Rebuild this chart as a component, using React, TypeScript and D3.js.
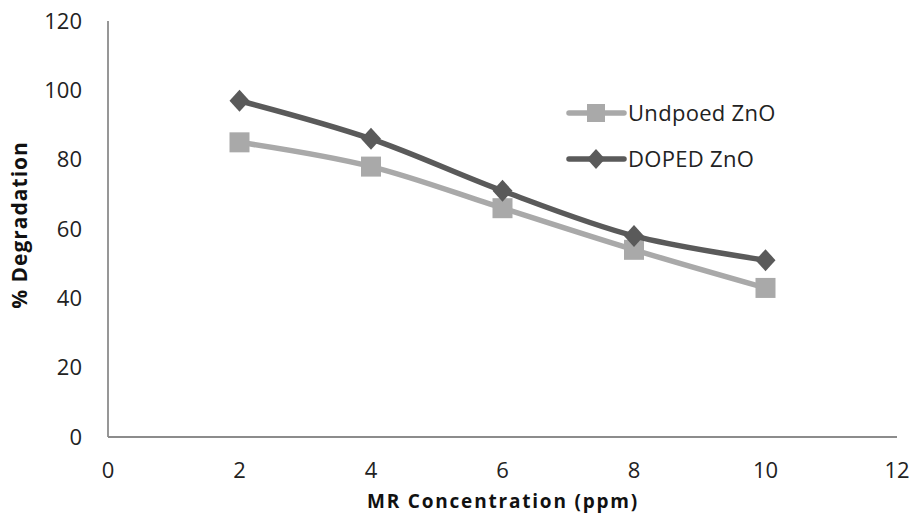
import React, { useEffect, useRef } from 'react'
import * as d3 from 'd3'

const concentrations = [2, 4, 6, 8, 10]
const undoped = [85, 78, 66, 54, 43]
const doped = [97, 86, 71, 58, 51]
const xTicks = [0, 2, 4, 6, 8, 10, 12]
const yTicks = [0, 20, 40, 60, 80, 100, 120]

const W = 912
const H = 516
const FONT = '"Open Sans", sans-serif'

export default function App() {
  const ref = useRef<SVGSVGElement>(null)

  useEffect(() => {
    const svg = d3.select(ref.current)
    svg.selectAll('*').remove()

    const x = d3.scaleLinear().domain([0, 12]).range([108, 897])
    const y = d3.scaleLinear().domain([0, 120]).range([437, 21])

    const axisColor = '#8c8c8c'

    // axis lines, no tick marks
    svg
      .append('line')
      .attr('x1', x(0))
      .attr('x2', x(12))
      .attr('y1', y(0))
      .attr('y2', y(0))
      .attr('stroke', axisColor)
      .attr('stroke-width', 1.8)
    svg
      .append('line')
      .attr('x1', x(0))
      .attr('x2', x(0))
      .attr('y1', y(0))
      .attr('y2', y(120))
      .attr('stroke', axisColor)
      .attr('stroke-width', 1.8)

    svg
      .append('g')
      .selectAll('text')
      .data(yTicks)
      .enter()
      .append('text')
      .attr('x', 82)
      .attr('y', d => y(d))
      .attr('dy', '0.35em')
      .attr('text-anchor', 'end')
      .style('font-family', FONT)
      .style('font-size', '22px')
      .attr('fill', '#222')
      .text(d => d)

    svg
      .append('g')
      .selectAll('text')
      .data(xTicks)
      .enter()
      .append('text')
      .attr('x', d => x(d))
      .attr('y', 478)
      .attr('text-anchor', 'middle')
      .style('font-family', FONT)
      .style('font-size', '22px')
      .attr('fill', '#222')
      .text(d => d)

    svg
      .append('text')
      .attr('x', 503)
      .attr('y', 508)
      .attr('text-anchor', 'middle')
      .style('font-family', FONT)
      .style('font-size', '19px')
      .style('font-weight', 'bold')
      .style('letter-spacing', '1.8px')
      .attr('fill', '#111')
      .text('MR Concentration (ppm)')

    svg
      .append('text')
      .attr('transform', 'translate(27 225) rotate(-90)')
      .attr('text-anchor', 'middle')
      .style('font-family', FONT)
      .style('font-size', '21px')
      .style('font-weight', 'bold')
      .style('letter-spacing', '1px')
      .attr('fill', '#111')
      .text('% Degradation')

    const line = d3
      .line<number>()
      .x((d, i) => x(concentrations[i]))
      .y(d => y(d))
      .curve(d3.curveCatmullRom.alpha(0.5))

    const series = [
      { name: 'Undpoed ZnO', values: undoped, color: '#a9a9a9', shape: 'square' },
      { name: 'DOPED ZnO', values: doped, color: '#5a5a5a', shape: 'diamond' },
    ]

    const drawMarker = (g: any, shape: string, cx: number, cy: number, color: string, r: number) => {
      if (shape === 'square') {
        g.append('rect')
          .attr('x', cx - r)
          .attr('y', cy - r)
          .attr('width', r * 2)
          .attr('height', r * 2)
          .attr('fill', color)
      } else {
        g.append('path')
          .attr('d', `M${cx},${cy - r - 1}L${cx + r},${cy}L${cx},${cy + r + 1}L${cx - r},${cy}Z`)
          .attr('fill', color)
      }
    }

    series.forEach(s => {
      svg
        .append('path')
        .attr('d', line(s.values))
        .attr('fill', 'none')
        .attr('stroke', s.color)
        .attr('stroke-width', 5.5)
        .attr('stroke-linejoin', 'round')
      const g = svg.append('g')
      s.values.forEach((v, i) => drawMarker(g, s.shape, x(concentrations[i]), y(v), s.color, 10))
    })

    // legend
    series.forEach((s, i) => {
      const ly = 113 + i * 46
      svg
        .append('line')
        .attr('x1', 569)
        .attr('x2', 624)
        .attr('y1', ly)
        .attr('y2', ly)
        .attr('stroke', s.color)
        .attr('stroke-width', 5.5)
        .attr('stroke-linecap', 'round')
      drawMarker(svg, s.shape, 596, ly, s.color, 9)
      svg
        .append('text')
        .attr('x', 628)
        .attr('y', ly)
        .attr('dy', '0.35em')
        .style('font-family', FONT)
        .style('font-size', '22px')
        .style('letter-spacing', '0.3px')
        .attr('fill', '#222')
        .text(s.name)
    })
  }, [])

  return (
    <div style={{ position: 'absolute', left: 0, top: 0, background: '#fff' }}>
      <svg ref={ref} width={W} height={H} style={{ display: 'block' }} />
    </div>
  )
}
